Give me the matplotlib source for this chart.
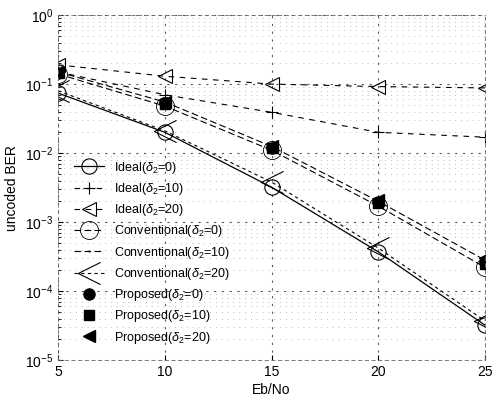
import matplotlib
matplotlib.use("Agg")
import matplotlib.pyplot as plt
from matplotlib.path import Path

plt.rcParams['font.family'] = ['Liberation Sans', 'DejaVu Sans']
plt.rcParams['mathtext.fontset'] = 'custom'
plt.rcParams['mathtext.rm'] = 'Liberation Sans'
plt.rcParams['mathtext.it'] = 'Liberation Sans:italic'

ebno = [5, 10, 15, 20, 25]
ideal_d0 = [0.074, 0.020, 3.2e-3, 3.7e-4, 3.2e-5]
ideal_d10 = [0.15, 0.07, 0.039, 0.020, 0.017]
ideal_d20 = [0.19, 0.13, 0.10, 0.092, 0.088]
conv_d0 = [0.14, 0.048, 0.011, 1.7e-3, 2.2e-4]
conv_d10 = [0.15, 0.055, 0.0125, 2.0e-3, 2.8e-4]
conv_d20 = [0.08, 0.021, 3.8e-3, 4.2e-4, 3.7e-5]
prop_d0 = [0.145, 0.053, 0.012, 1.95e-3, 2.6e-4]
prop_d10 = [0.143, 0.052, 0.0118, 1.9e-3, 2.5e-4]
prop_d20 = [0.15, 0.055, 0.0125, 2.1e-3, 3.0e-4]

labels = [r'Ideal($\delta_2$=0)', r'Ideal($\delta_2$=10)', r'Ideal($\delta_2$=20)',
          r'Conventional($\delta_2$=0)', r'Conventional($\delta_2$=10)', r'Conventional($\delta_2$=20)',
          r'Proposed($\delta_2$=0)', r'Proposed($\delta_2$=10)', r'Proposed($\delta_2$=20)']

chevron = Path([(1, 1), (-1, 0), (1, -1)], [Path.MOVETO, Path.LINETO, Path.LINETO])

fig = plt.figure(figsize=(4.97, 3.97), dpi=100)
ax = fig.add_axes([0.117, 0.093, 0.859, 0.869])

ax.semilogy(ebno, ideal_d0, 'k-', marker='o', ms=11, mfc='none', mew=0.8, lw=0.9, label=labels[0])
ax.semilogy(ebno, ideal_d10, 'k--', marker='+', ms=9, mew=0.8, lw=0.8, dashes=(5, 5), label=labels[1])
ax.semilogy(ebno, ideal_d20, 'k--', marker='<', ms=10, mfc='none', mew=0.8, lw=0.8, dashes=(5, 5), label=labels[2])
ax.semilogy(ebno, conv_d0, 'k--', marker='o', ms=13, mfc='none', mew=0.6, lw=0.8, dashes=(6, 3), label=labels[3])
ax.semilogy(ebno, conv_d10, 'k--', marker='.', ms=1, lw=0.8, dashes=(6, 3), label=labels[4])
ax.semilogy(ebno, conv_d20, 'k--', marker=chevron, ms=16, mfc='none', mew=0.8, lw=0.8, dashes=(3, 3), label=labels[5])
ax.semilogy(ebno, prop_d0, 'k', ls='none', marker='o', ms=8, label=labels[6])
ax.semilogy(ebno, prop_d10, 'k', ls='none', marker='s', ms=7, label=labels[7])
ax.semilogy(ebno, prop_d20, 'k', ls='none', marker='<', ms=8, label=labels[8])

ax.set_xlim(5, 25)
ax.set_ylim(1e-5, 1e0)
ax.set_xticks(ebno)
ax.grid(True, which='major', ls=(0, (2, 5)), color='0.35', lw=0.8)
ax.grid(True, which='minor', ls=(0, (1, 6)), color='0.65', lw=0.6)
ax.tick_params(which='both', direction='in', labelsize=10)
for s in ax.spines.values():
    s.set_linestyle((0, (4, 4)))
    s.set_linewidth(0.6)
    s.set_color('0.4')

ax.set_xlabel('Eb/No', fontsize=10, labelpad=3)
ax.set_ylabel('uncoded BER', fontsize=10)

leg = ax.legend(loc='lower left', bbox_to_anchor=(0.02, 0.02), frameon=False, fontsize=9,
                handlelength=2.4, labelspacing=0.42, borderaxespad=0.2)

fig.savefig('out.png', dpi=100)
